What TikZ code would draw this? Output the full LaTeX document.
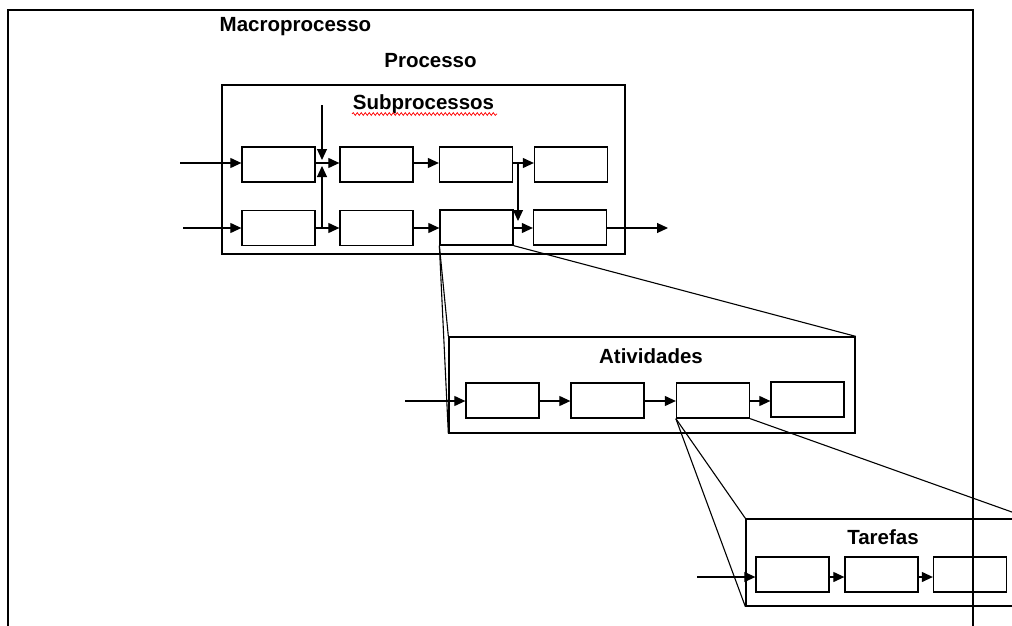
\documentclass[tikz,border=0pt]{standalone}
\usepackage{fontspec}
\setmainfont{Liberation Sans}
\usetikzlibrary{arrows.meta,decorations.pathmorphing}
\begin{document}
\begin{tikzpicture}[x=1pt,y=-1pt,
  pbox/.style={draw, line width=1.3pt, minimum width=73pt, minimum height=35pt, inner sep=0pt},
  cont/.style={draw, line width=1.3pt, inner sep=0pt},
  ttl/.style={anchor=base, inner sep=0pt, font=\fontsize{20.5}{24}\selectfont\bfseries},
  arr/.style={line width=1.1pt, -{Triangle[length=11pt,width=10pt]}},
  zl/.style={line width=1.1pt},
  frame/.style={line width=2pt}]
\useasboundingbox (0,0) rectangle (1012,626);
% titles
\node[ttl] (macro) at (295.5,32) {Macroprocesso};
\node[ttl] (proc) at (430.5,67) {Processo};
% subprocess container
\node[cont, minimum width=403pt, minimum height=169pt] (sub) at (423.5,169.5) {};
\node[ttl] (subt) at (423.5,110) {Subprocessos};
\draw[red, line width=0.7pt, decorate, decoration={snake, amplitude=1.4pt, segment length=4pt}] (352,114) -- (497,114);
% row 1
\node[pbox] (A1) at (278.5,164.5) {};
\node[pbox] (A2) at (376.5,164.5) {};
\node[pbox] (A3) at (476,164.5) {};
\node[pbox] (A4) at (571,164.5) {};
% row 2
\node[pbox] (B1) at (278.5,228) {};
\node[pbox] (B2) at (376.5,228) {};
\node[pbox] (B3) at (476.5,227.5) {};
\node[pbox] (B4) at (570,227.5) {};
% inputs
\coordinate (inA) at (180,163);
\coordinate (inB) at (183,228);
\draw[arr] (inA) -- (A1.west |- inA);
\draw[arr] (inB) -- (B1.west |- inB);
% row 1 connectors
\draw[arr] (A1.east |- inA) -- (A2.west |- inA);
\draw[arr] (A2.east |- inA) -- (A3.west |- inA);
\draw[arr] (A3.east |- inA) -- (A4.west |- inA);
% row 2 connectors
\draw[arr] (B1.east |- inB) -- (B2.west |- inB);
\draw[arr] (B2.east |- inB) -- (B3.west |- inB);
\draw[arr] (B3.east |- inB) -- (B4.west |- inB);
% branches
\coordinate (topin) at (322,105);
\coordinate (tip1) at (322,160);
\coordinate (j1) at (322,228);
\coordinate (tip2) at (322,166);
\draw[arr] (topin) -- (tip1);
\draw[arr] (j1) -- (tip2);
\coordinate (j2) at (518,163);
\coordinate (tip3) at (518,221);
\draw[arr] (j2) -- (tip3);
% output
\coordinate (out) at (668,228);
\draw[arr] (B4.east |- out) -- (out);
% atividades
\node[cont, minimum width=406pt, minimum height=96pt] (ativ) at (652,385) {};
\node[ttl] (ativt) at (651,363) {Atividades};
\node[pbox] (C1) at (502.5,400.5) {};
\node[pbox] (C2) at (607.5,400.5) {};
\node[pbox] (C3) at (713,400.5) {};
\node[pbox] (C4) at (807.5,399.5) {};
\coordinate (inC) at (405,401);
\draw[arr] (inC) -- (C1.west |- inC);
\draw[arr] (C1.east |- inC) -- (C2.west |- inC);
\draw[arr] (C2.east |- inC) -- (C3.west |- inC);
\draw[arr] (C3.east |- inC) -- (C4.west |- inC);
% tarefas
\node[cont, minimum width=283pt, minimum height=87pt] (tar) at (887.5,562.5) {};
\node[ttl] (tart) at (883,544) {Tarefas};
\node[pbox] (D1) at (792.5,574.5) {};
\node[pbox] (D2) at (881.5,574.5) {};
\node[pbox] (D3) at (970,574.5) {};
\coordinate (inD) at (697,577);
\draw[arr] (inD) -- (D1.west |- inD);
\draw[arr] (D1.east |- inD) -- (D2.west |- inD);
\draw[arr] (D2.east |- inD) -- (D3.west |- inD);
% zoom lines
\draw[zl] (B3.south west) -- (ativ.north west);
\draw[zl] (B3.south west) -- (ativ.south west);
\draw[zl] (B3.south east) -- (ativ.north east);
\draw[zl] (C3.south west) -- (tar.north west);
\draw[zl] (C3.south west) -- (tar.south west);
\draw[zl] (C3.south east) -- (tar.north east);
% outer frame
\coordinate (f1) at (8,626);
\coordinate (f2) at (8,10);
\coordinate (f3) at (973,10);
\coordinate (f4) at (973,626);
\draw[frame] (f1) -- (f2) -- (f3) -- (f4);
\end{tikzpicture}
\end{document}
